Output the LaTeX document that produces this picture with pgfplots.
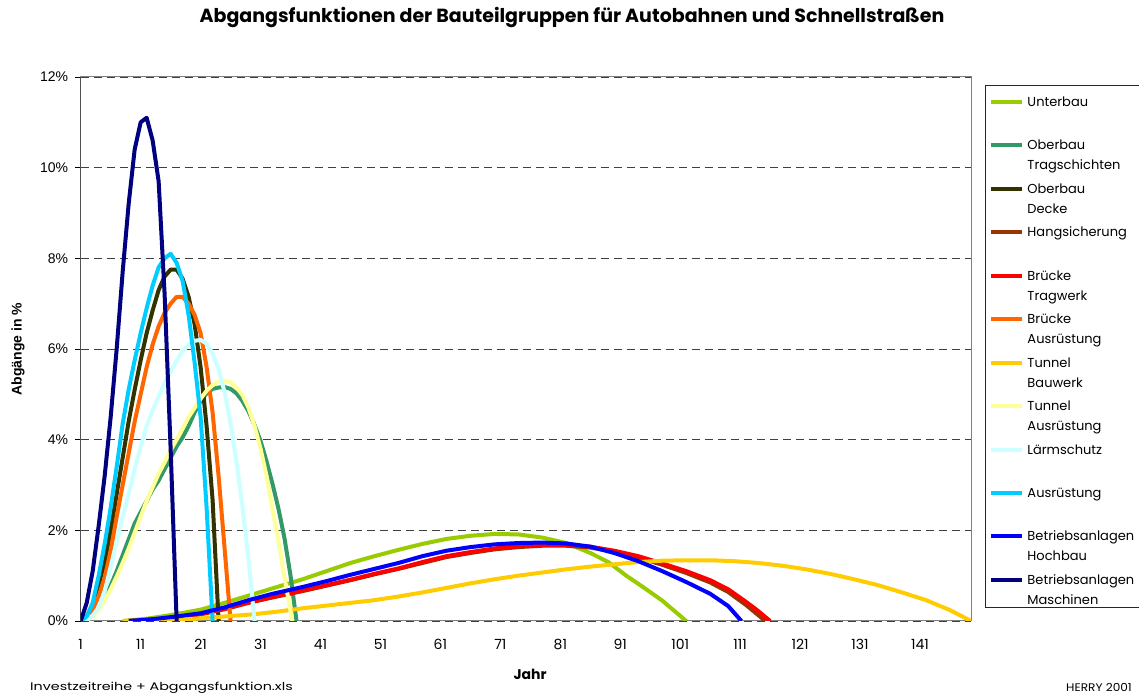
\documentclass[border=0pt]{standalone}
\usepackage{pgfplots}
\pgfplotsset{compat=1.18}
\usepackage{fontspec}
\setmainfont{Poppins}
\newfontfamily\arialfont{Liberation Sans}

\definecolor{cUnterbau}{HTML}{99CC00}
\definecolor{cOTrag}{HTML}{339966}
\definecolor{cODecke}{HTML}{333300}
\definecolor{cHang}{HTML}{993300}
\definecolor{cBTrag}{HTML}{FF0000}
\definecolor{cBAus}{HTML}{FF6600}
\definecolor{cTBau}{HTML}{FFCC00}
\definecolor{cTAus}{HTML}{FFFF99}
\definecolor{cLaerm}{HTML}{CCFFFF}
\definecolor{cAus}{HTML}{00CCFF}
\definecolor{cBHoch}{HTML}{0000FF}
\definecolor{cBMasch}{HTML}{000080}

% two-line legend text, kept above the row baseline
\newcommand\legtext[2]{\raisebox{19pt}[37pt][0pt]{\parbox[t]{130pt}{\rule{0pt}{18pt}#1\\#2}}}

\begin{document}
\begin{tikzpicture}[x=1pt,y=1pt]
\useasboundingbox (0,0) rectangle (1139,695);
\begin{axis}[
  at={(80.7pt,74pt)}, anchor=south west,
  scale only axis, width=890.3pt, height=544pt,
  xmin=1, xmax=149.5, ymin=0, ymax=12,
  /pgf/number format/assume math mode=true,
  xtick={1,11,...,141},
  minor xtick={1,...,149},
  xtick style={draw=none},
  minor x tick style={black!80, line width=0.8pt},
  minor tick length=4pt,
  ytick={0,2,...,12},
  ytick style={black, line width=0.8pt},
  major tick length=6pt,
  tick align=outside,
  xtick pos=left, ytick pos=left,
  yticklabel={\pgfmathprintnumber{\tick}\%},
  yticklabel style={font=\arialfont\fontsize{14}{16}\selectfont, xshift=-3pt},
  xticklabel style={font=\fontsize{14}{16}\selectfont, yshift=-9pt},
  ymajorgrids,
  major grid style={black!75, line width=0.8pt, dash pattern=on 8pt off 5pt},
  axis line style={draw=gray, line width=1pt},
  xlabel={Jahr},
  ylabel={Abgänge in \%},
  every axis x label/.style={at={(axis description cs:0.5047,-0.0974)}, anchor=center, font=\bfseries\fontsize{14}{16}\selectfont},
  every axis y label/.style={at={(axis description cs:-0.0704,0.5)}, rotate=90, anchor=center, font=\arialfont\bfseries\fontsize{14}{16}\selectfont},
  every axis plot/.append style={line width=4pt, line join=round},
  legend image code/.code={\path[draw=none, fill=none] (0pt,0pt) -- (0pt,0.1pt);
    \draw[#1, line width=4pt] (0pt,23.5pt) -- (31pt,23.5pt);},
  legend cell align=left,
  legend style={at={(axis description cs:1.0157,0.9853)}, anchor=north west,
    draw=black!85, line width=1pt, inner xsep=4pt, inner ysep=3pt,
    nodes={inner sep=0pt}, cells={anchor=base west},
    row sep=4.94pt, column sep=3pt,
    font=\fontsize{13}{20}\selectfont},
]

\addplot[cUnterbau] coordinates {
(8,0) (12,0.05) (16,0.13) (21,0.25) (25,0.4) (29,0.56) (33,0.72) (38,0.92)
(42,1.1) (46,1.28) (50,1.43) (54,1.57) (58,1.7) (62,1.81) (66,1.88) (70,1.92)
(74,1.91) (78,1.84) (82,1.72) (86,1.5) (89,1.3) (92,1.0) (95,0.73) (98,0.45) (102,0)};
\addlegendentry{\legtext{Unterbau}{}}

\addplot[cOTrag] coordinates {
(1,0) (2,0.03) (3,0.12) (4,0.28) (5,0.5) (6,0.78) (7,1.1) (8,1.45) (9,1.8)
(10,2.15) (11,2.4) (12,2.65) (13,2.9) (14,3.1) (15,3.35) (16,3.6) (17,3.85)
(18,4.05) (19,4.3) (20,4.6) (21,4.85) (22,5.02) (23,5.12) (24,5.15) (25,5.16)
(26,5.12) (27,5.02) (28,4.85) (29,4.62) (30,4.32) (31,3.97) (32,3.52) (33,3.02)
(34,2.47) (35,1.82) (36,1.0) (37,0)};
\addlegendentry{\legtext{Oberbau}{Tragschichten}}

\addplot[cODecke] coordinates {
(1,0) (2,0.1) (3,0.35) (4,0.8) (5,1.3) (6,2.0) (7,2.8) (8,3.6) (9,4.4)
(10,5.1) (11,5.75) (12,6.35) (13,6.85) (14,7.3) (15,7.6) (16,7.75) (17,7.75)
(18,7.55) (19,7.15) (20,6.55) (21,5.6) (22,4.3) (23,2.67) (24,0)};
\addlegendentry{\legtext{Oberbau}{Decke}}

\addplot[cHang] coordinates {
(9,0) (13,0.03) (17,0.08) (21,0.15) (25,0.26) (29,0.4) (33,0.52) (38,0.66)
(42,0.78) (46,0.9) (50,1.03) (54,1.15) (58,1.28) (62,1.41) (66,1.5) (70,1.58)
(74,1.63) (78,1.66) (82,1.66) (86,1.62) (90,1.53) (94,1.4) (98,1.24) (102,1.06)
(106,0.85) (109,0.64) (112,0.35) (115.2,0)};
\addlegendentry{\legtext{Hangsicherung}{}}

\addplot[cBTrag] coordinates {
(9,0) (13,0.03) (17,0.08) (21,0.15) (25,0.27) (29,0.41) (33,0.53) (38,0.67)
(42,0.79) (46,0.91) (50,1.04) (54,1.16) (58,1.3) (62,1.43) (66,1.52) (70,1.6)
(74,1.65) (78,1.68) (82,1.68) (86,1.64) (90,1.55) (94,1.43) (98,1.27) (102,1.1)
(106,0.9) (109,0.7) (112,0.42) (114,0.22) (116,0)};
\addlegendentry{\legtext{Brücke}{Tragwerk}}

\addplot[cBAus] coordinates {
(1,0) (2,0.08) (3,0.25) (4,0.55) (5,0.95) (6,1.55) (7,2.3) (8,3.0) (9,3.7)
(10,4.4) (11,5.0) (12,5.6) (13,6.1) (14,6.5) (15,6.8) (16,7.0) (17,7.15)
(18,7.15) (19,7.0) (20,6.75) (21,6.35) (22,5.6) (23,4.6) (24,3.2) (25,1.6) (26,0)};
\addlegendentry{\legtext{Brücke}{Ausrüstung}}

\addplot[cTBau] coordinates {
(8,0) (14,0.01) (20,0.05) (25,0.1) (30,0.15) (34,0.21) (38,0.28) (42,0.34)
(46,0.4) (50,0.46) (54,0.54) (58,0.63) (62,0.73) (66,0.83) (70,0.92) (74,1.0)
(78,1.07) (82,1.14) (86,1.2) (90,1.25) (94,1.3) (98,1.33) (102,1.34) (106,1.34)
(110,1.32) (114,1.28) (118,1.22) (122,1.14) (126,1.04) (130,0.92) (134,0.79)
(138,0.63) (142,0.46) (146,0.24) (149.5,0)};
\addlegendentry{\legtext{Tunnel}{Bauwerk}}

\addplot[cTAus] coordinates {
(1,0) (2,0.02) (3,0.1) (4,0.25) (5,0.45) (6,0.7) (7,0.98) (8,1.28) (9,1.6)
(10,1.95) (11,2.3) (12,2.65) (13,2.95) (14,3.25) (15,3.5) (16,3.77) (17,4.0)
(18,4.25) (19,4.5) (20,4.7) (21,4.9) (22,5.08) (23,5.2) (24,5.28) (25,5.3)
(26,5.27) (27,5.15) (28,4.98) (29,4.7) (30,4.3) (31,3.8) (32,3.2) (33,2.45)
(34,1.75) (35,0.95) (36.3,0)};
\addlegendentry{\legtext{Tunnel}{Ausrüstung}}

\addplot[cLaerm] coordinates {
(1,0) (2,0.03) (3,0.12) (4,0.3) (5,0.65) (6,1.2) (7,1.75) (8,2.3) (9,2.8)
(10,3.35) (11,3.85) (12,4.3) (13,4.65) (14,4.95) (15,5.25) (16,5.5) (17,5.75)
(18,5.95) (19,6.1) (20,6.18) (21,6.2) (22,6.12) (23,5.9) (24,5.55) (25,5.05)
(26,4.35) (27,3.5) (28,2.5) (29,1.35) (30,0)};
\addlegendentry{\legtext{Lärmschutz}{}}

\addplot[cAus] coordinates {
(1,0) (2,0.1) (3,0.4) (4,1.0) (5,1.7) (6,2.5) (7,3.4) (8,4.35) (9,5.1)
(10,5.75) (11,6.35) (12,6.9) (13,7.4) (14,7.8) (15,8.0) (16,8.1) (17,7.9)
(18,7.5) (19,6.75) (20,5.7) (21,4.5) (22,2.5) (23,0)};
\addlegendentry{\legtext{Ausrüstung}{}}

\addplot[cBHoch] coordinates {
(9,0) (13,0.04) (17,0.1) (21,0.17) (25,0.3) (29,0.46) (33,0.6) (38,0.75)
(42,0.88) (46,1.02) (50,1.15) (54,1.28) (58,1.43) (62,1.55) (66,1.63) (70,1.69)
(74,1.72) (78,1.73) (82,1.71) (86,1.64) (90,1.5) (94,1.32) (98,1.1) (102,0.86)
(106,0.6) (109,0.33) (111.2,0)};
\addlegendentry{\legtext{Betriebsanlagen}{Hochbau}}

\addplot[cBMasch] coordinates {
(1,0) (2,0.4) (3,1.1) (4,2.1) (5,3.2) (6,4.5) (7,6.0) (8,7.7) (9,9.2)
(10,10.4) (11,11.0) (12,11.1) (13,10.6) (14,9.7) (15,7.2) (16,3.8) (17,0)};
\addlegendentry{\legtext{Betriebsanlagen}{Maschinen}}

\draw[black, line width=1pt] (rel axis cs:0,0) -- (rel axis cs:0,1);
\end{axis}

\node[font=\bfseries\fontsize{19}{22}\selectfont] at (572,677)
  {Abgangsfunktionen der Bauteilgruppen für Autobahnen und Schnellstraßen};
\node[font=\fontsize{11}{13}\selectfont, anchor=base west, inner sep=0pt] at (30,4)
  {\scalebox{1.3}[1]{Investzeitreihe + Abgangsfunktion.xls}};
\node[font=\fontsize{11}{13}\selectfont, anchor=base west, inner sep=0pt] at (1066,3)
  {\scalebox{1.1}[1]{HERRY 2001}};
\end{tikzpicture}
\end{document}
